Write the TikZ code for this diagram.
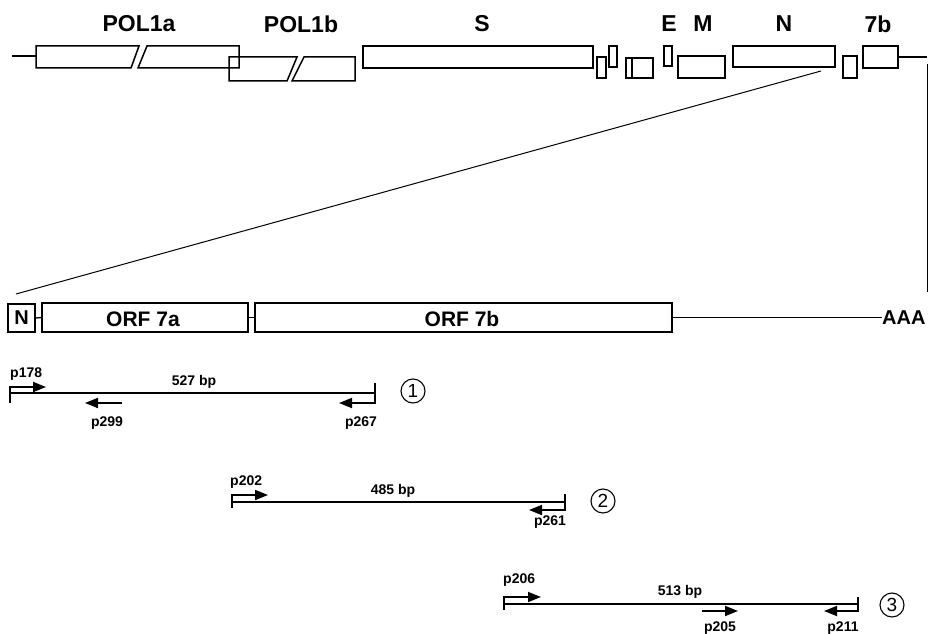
\documentclass[tikz,border=0pt]{standalone}
\usepackage{fontspec}
\setmainfont{Liberation Sans}
\usetikzlibrary{arrows.meta}
\tikzset{
  lw/.style={line width=1.3pt},
  gbox/.style={draw, lw, inner sep=0pt, fill=white},
  glabel/.style={font=\bfseries\fontsize{23}{23}\selectfont, inner sep=0pt},
  orflabel/.style={font=\bfseries\fontsize{21}{21}\selectfont, inner sep=0pt},
  plabel/.style={font=\bfseries\fontsize{14}{14}\selectfont, inner sep=0pt},
  amp/.style={line width=1.3pt},
  primer/.style={line width=1.8pt, -{Triangle[length=13pt,width=10pt]}},
  cnum/.style={circle, draw, line width=1.1pt, minimum size=24pt, inner sep=0pt, font=\fontsize{19}{19}\selectfont}
}
\begin{document}
\begin{tikzpicture}[x=1pt,y=-1pt]
\useasboundingbox (0,0) rectangle (930,634);

% ---------- genome ----------
\coordinate (g0) at (12,56);
\coordinate (g1) at (36,56);
\draw[lw] (g0) -- (g1);
% POL1a
\draw[line width=1.5pt, line join=miter] (36,46) -- (139,46) -- (131,68) -- (36,68) -- cycle;
\draw[line width=1.5pt, line join=miter] (147,46) -- (239,46) -- (239,68) -- (138,68) -- cycle;
% POL1b
\draw[line width=1.5pt, line join=miter] (229,57) -- (297,57) -- (287,81) -- (229,81) -- cycle;
\draw[line width=1.5pt, line join=miter] (304,57) -- (355,57) -- (355,81) -- (292,81) -- cycle;
% other ORFs
\node[gbox, minimum width=230pt, minimum height=22pt] (S) at (478,57) {};
\node[gbox, minimum width=9pt, minimum height=21pt] (s1) at (601.5,67.5) {};
\node[gbox, minimum width=8pt, minimum height=21pt] (s2) at (613,56.5) {};
\node[gbox, minimum width=27pt, minimum height=20pt] (s3) at (639.5,68) {};
\draw[lw] (632,58) -- (632,78);
\node[gbox, minimum width=8pt, minimum height=20pt] (E) at (668,56) {};
\node[gbox, minimum width=47pt, minimum height=22pt] (M) at (701.5,67) {};
\node[gbox, minimum width=102pt, minimum height=21pt] (Nb) at (784,56.5) {};
\node[gbox, minimum width=14pt, minimum height=22pt] (s4) at (850,67) {};
\node[gbox, minimum width=35pt, minimum height=22pt] (B7) at (880.5,57) {};
\coordinate (gend) at (927,57);
\draw[lw] (B7.east) -- (gend);

% labels
\node[glabel] (lPOL1a) at (139,24) {POL1a};
\node[glabel] (lPOL1b) at (301,24) {POL1b};
\node[glabel] (lS) at (482,24) {S};
\node[glabel] (lE) at (669,24) {E};
\node[glabel] (lM) at (703,24) {M};
\node[glabel] (lN) at (784,24) {N};
\node[glabel] (l7b) at (878,24) {7b};

% ---------- enlarged region ----------
\node[gbox, minimum width=27pt, minimum height=28pt, font=\bfseries\fontsize{20}{20}\selectfont] (Nsm) at (21.5,318) {N};
\node[gbox, minimum width=206pt, minimum height=29pt] (O7a) at (145,317.5) {};
\node[orflabel] at (143,319) {ORF 7a};
\node[gbox, minimum width=417pt, minimum height=29pt] (O7b) at (463.5,317.5) {};
\node[orflabel] at (462,319) {ORF 7b};
\node[font=\bfseries\fontsize{20}{20}\selectfont, inner sep=0pt, anchor=west] (AAA) at (882,317.5) {AAA};
\draw[lw] (Nsm.east) -- (O7a.west);
\draw[lw] (O7a.east) -- (O7b.west);
\draw[lw] (O7b.east) -- (AAA.west);

\coordinate (zN) at (821,71);
\coordinate (zL) at (16,294);
\draw[line width=1pt] (zN) -- (zL);
\coordinate (vt) at (927,64);
\coordinate (vb) at (927,292);
\draw[line width=1pt] (vt) -- (vb);

% ---------- amplicon 1 ----------
\coordinate (a1L) at (10,393);
\coordinate (a1R) at (375,393);
\draw[amp] (a1L) -- (a1R);
\draw[amp] (10,386) -- (10,403);
\draw[amp] (375,383) -- (375,404);
\draw[primer] (10,387) -- (46,387);
\draw[primer] (375,403) -- (339,403);
\draw[primer] (122,403) -- (85,403);
\node[plabel, anchor=base west] at (10,377) {p178};
\node[plabel, anchor=base] at (194,385) {527 bp};
\node[plabel, anchor=base] at (107,426) {p299};
\node[plabel, anchor=base] at (361,426) {p267};
\node[cnum] (c1) at (413,391) {1};

% ---------- amplicon 2 ----------
\coordinate (a2L) at (232,502);
\coordinate (a2R) at (565,502);
\draw[amp] (a2L) -- (a2R);
\draw[amp] (232,494) -- (232,508);
\draw[amp] (565,494) -- (565,511);
\draw[primer] (232,495) -- (268,495);
\draw[primer] (565,510) -- (529,510);
\node[plabel, anchor=base west] at (230,485) {p202};
\node[plabel, anchor=base] at (393,494) {485 bp};
\node[plabel, anchor=base] at (550,525) {p261};
\node[cnum] (c2) at (603,501) {2};

% ---------- amplicon 3 ----------
\coordinate (a3L) at (504,604);
\coordinate (a3R) at (858,604);
\draw[amp] (a3L) -- (a3R);
\draw[amp] (504,596) -- (504,610);
\draw[amp] (858,597) -- (858,612);
\draw[primer] (504,597) -- (541,597);
\draw[primer] (858,611) -- (824,611);
\draw[primer] (702,611) -- (738,611);
\node[plabel, anchor=base west] at (503,583) {p206};
\node[plabel, anchor=base] at (680,595) {513 bp};
\node[plabel, anchor=base] at (720,631) {p205};
\node[plabel, anchor=base] at (843,631) {p211};
\node[cnum] (c3) at (892,605) {3};
\end{tikzpicture}
\end{document}
